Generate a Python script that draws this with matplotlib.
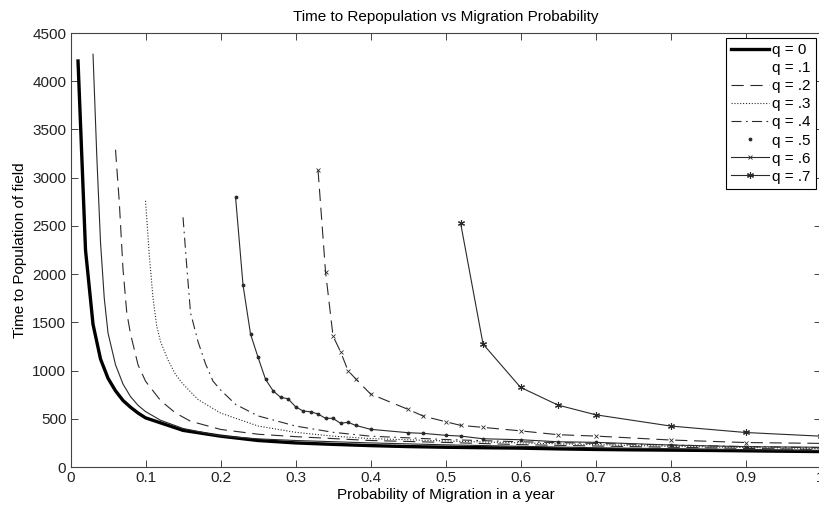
import matplotlib
matplotlib.use('Agg')
import matplotlib.pyplot as plt
from matplotlib.lines import Line2D

plt.rcParams['font.family'] = ['Liberation Sans', 'DejaVu Sans']

# migration probability (x) and time to repopulation (y) per q value
p_q0 = [0.01, 0.02, 0.03, 0.04, 0.05, 0.06, 0.07, 0.08, 0.09, 0.1, 0.15, 0.2, 0.25, 0.3,
        0.35, 0.4, 0.45, 0.5, 0.55, 0.6, 0.65, 0.7, 0.75, 0.8, 0.85, 0.9, 0.95, 1.0]
t_q0 = [4210, 2250, 1480, 1120, 920, 790, 690, 620, 560, 510, 380, 320, 275, 250,
        235, 222, 212, 205, 200, 196, 188, 182, 178, 175, 172, 168, 164, 160]

p_q1 = [0.03, 0.035, 0.04, 0.045, 0.05, 0.06, 0.07, 0.08, 0.09, 0.1, 0.12, 0.15, 0.2,
        0.25, 0.3, 0.4, 0.5, 0.6, 0.7, 0.8, 0.9, 1.0]
t_q1 = [4280, 3230, 2330, 1750, 1390, 1060, 860, 730, 640, 575, 485, 400, 322,
        292, 275, 250, 230, 215, 200, 190, 180, 172]

p_q2 = [0.06, 0.065, 0.07, 0.075, 0.08, 0.09, 0.1, 0.12, 0.14, 0.16, 0.2, 0.25, 0.3,
        0.4, 0.5, 0.6, 0.7, 0.8, 0.9, 1.0]
t_q2 = [3290, 2750, 2050, 1600, 1380, 1060, 890, 690, 560, 475, 390, 340, 315,
        275, 255, 232, 218, 205, 193, 182]

p_q3 = [0.1, 0.105, 0.11, 0.115, 0.12, 0.13, 0.14, 0.15, 0.17, 0.2, 0.25, 0.3, 0.35,
        0.4, 0.5, 0.6, 0.7, 0.8, 0.9, 1.0]
t_q3 = [2760, 2200, 1750, 1460, 1300, 1110, 960, 860, 700, 560, 425, 360, 320,
        295, 270, 250, 232, 215, 202, 192]

p_q4 = [0.15, 0.155, 0.16, 0.17, 0.18, 0.19, 0.2, 0.22, 0.25, 0.3, 0.35, 0.4, 0.5,
        0.6, 0.7, 0.8, 0.9, 1.0]
t_q4 = [2590, 2080, 1600, 1300, 1070, 890, 800, 650, 530, 425, 360, 320, 285,
        262, 245, 228, 212, 200]

p_q5 = [0.22, 0.23, 0.24, 0.25, 0.26, 0.27, 0.28, 0.29, 0.30, 0.31, 0.32, 0.33, 0.34,
        0.35, 0.36, 0.37, 0.38, 0.40, 0.45, 0.47, 0.50, 0.52, 0.55, 0.60, 0.65, 0.70,
        0.80, 0.90, 1.0]
t_q5 = [2803, 1887, 1379, 1138, 910, 791, 723, 708, 625, 581, 573, 550, 505,
        505, 453, 464, 432, 391, 356, 349, 329, 321, 293, 283, 262, 256,
        228, 211, 205]

p_q6 = [0.33, 0.34, 0.35, 0.36, 0.37, 0.38, 0.40, 0.45, 0.47, 0.50, 0.52, 0.55, 0.60,
        0.65, 0.70, 0.80, 0.90, 1.0]
t_q6 = [3080, 2025, 1358, 1196, 999, 916, 757, 598, 529, 470, 432, 411, 375,
        335, 321, 280, 254, 245]

p_q7 = [0.52, 0.55, 0.60, 0.65, 0.70, 0.80, 0.90, 1.0]
t_q7 = [2533, 1275, 826, 642, 542, 425, 358, 320]

labels = ['q = 0', 'q = .1', 'q = .2', 'q = .3', 'q = .4', 'q = .5', 'q = .6', 'q = .7']

fig = plt.figure(figsize=(8.19, 5.05), dpi=100, facecolor='w')
ax = fig.add_axes([0.0861, 0.0752, 0.9158, 0.8594])

lc = '#2a2a2a'
lw = 0.8
fs = 11
ax.plot(p_q0, t_q0, color='black', lw=2.4, solid_joinstyle='miter')
ax.plot(p_q1, t_q1, color=lc, lw=lw)
ax.plot(p_q2, t_q2, color=lc, lw=lw, linestyle=(0, (11, 6)))
ax.plot(p_q3, t_q3, color=lc, lw=lw, linestyle=(0, (1, 1.6)))
ax.plot(p_q4, t_q4, color=lc, lw=lw, linestyle=(0, (9, 4, 1.5, 4)))
ax.plot(p_q5, t_q5, color=lc, lw=lw, marker='.', markersize=3.5)
ax.plot(p_q6, t_q6, color=lc, lw=lw, linestyle=(0, (11, 6)), marker='x',
        markersize=3, markeredgewidth=0.6)
ax.plot(p_q7, t_q7, color=lc, lw=lw, marker=(6, 2, 0), markersize=5,
        markeredgewidth=0.8)

# legend handles (q = .1 and q = .5 show no line in the legend)
handles = [
    Line2D([], [], color='black', lw=2.4),
    Line2D([], [], color=lc, lw=0, linestyle='none'),
    Line2D([], [], color=lc, lw=lw, linestyle=(0, (11, 6))),
    Line2D([], [], color=lc, lw=lw, linestyle=(0, (1, 1.6))),
    Line2D([], [], color=lc, lw=lw, linestyle=(0, (9, 4, 1.5, 4))),
    Line2D([], [], color=lc, linestyle='none', marker='.', markersize=3.5),
    Line2D([], [], color=lc, lw=lw, marker='x', markersize=3, markeredgewidth=0.6),
    Line2D([], [], color=lc, lw=lw, marker=(6, 2, 0), markersize=5, markeredgewidth=0.8),
]
leg = ax.legend(handles, labels, loc='upper right', fontsize=fs, frameon=True,
                fancybox=False, framealpha=1, edgecolor='black', borderaxespad=0.3,
                handlelength=2.5, handletextpad=0.2, labelspacing=0.27,
                borderpad=0.35)
leg.get_frame().set_linewidth(0.8)

ax.set_xlim(0, 1)
ax.set_ylim(0, 4500)
ax.set_xticks([0, 0.1, 0.2, 0.3, 0.4, 0.5, 0.6, 0.7, 0.8, 0.9, 1])
ax.set_xticklabels(['0', '0.1', '0.2', '0.3', '0.4', '0.5', '0.6', '0.7', '0.8', '0.9', '1'])
ax.set_yticks(range(0, 4501, 500))
ax.tick_params(direction='in', top=True, right=True, length=5, width=0.6,
               labelsize=fs, pad=3, colors='#222222')
for s in ax.spines.values():
    s.set_color('#444444')
    s.set_linewidth(0.8)

ax.set_title('Time to Repopulation vs Migration Probability', fontsize=fs, pad=9)
ax.set_xlabel('Probability of Migration in a year', fontsize=fs, labelpad=2)
ax.set_ylabel('Time to Population of field', fontsize=fs, labelpad=4)

plt.savefig('out.png', dpi=100)
